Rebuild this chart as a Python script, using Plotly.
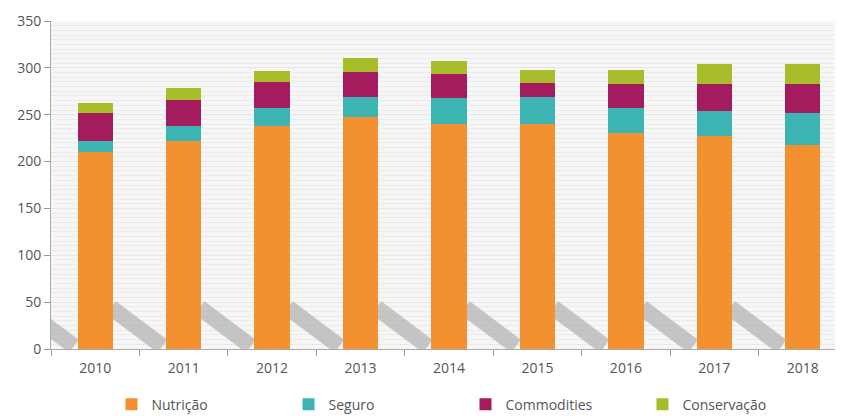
import plotly.graph_objects as go

years = ["2010", "2011", "2012", "2013", "2014", "2015", "2016", "2017", "2018"]
nutricao = [210, 222, 238, 248, 240, 240, 231, 227, 218]
seguro = [12, 16, 19, 21, 28, 29, 26, 27, 34]
commodities = [30, 28, 28, 27, 25, 15, 26, 29, 31]
conservacao = [11, 12, 12, 14, 14, 14, 15, 21, 21]

series = [
    ("Nutrição", nutricao, "#f39130"),
    ("Seguro", seguro, "#3cb4b4"),
    ("Commodities", commodities, "#a51c5e"),
    ("Conservação", conservacao, "#a9bd2b"),
]

font = "Open Sans, Noto Sans, sans-serif"
fig = go.Figure()
for name, vals, col in series:
    fig.add_trace(go.Bar(x=years, y=vals, name=name, marker=dict(color=col, line=dict(width=0)), width=0.4))

# decorative diagonal shadows between bars
shapes = []
for i in range(len(years)):
    shapes.append(dict(type="line", xref="x", yref="y", x0=i - 0.82, y0=44, x1=i - 0.24, y1=3,
                       line=dict(color="rgba(165,165,165,0.6)", width=16), layer="between"))

fig.update_layout(
    barmode="stack",
    width=843, height=416,
    margin=dict(l=43, r=4, t=13, b=75, autoexpand=False),
    paper_bgcolor="white",
    plot_bgcolor="#f6f6f6",
    font=dict(family=font, size=13, color="#555555"),
    shapes=shapes,
    showlegend=True,
    legend=dict(orientation="h", x=0.076, xanchor="left", y=-0.17, yanchor="middle",
                entrywidth=132, font=dict(size=14, color="#555555"), itemwidth=30,
                traceorder="normal"),
    xaxis=dict(type="category", range=[-0.5, 8.5], tickson="boundaries", ticks="outside",
               ticklen=6, tickcolor="#999999", showline=True, linecolor="#aaaaaa",
               showgrid=False, tickfont=dict(size=14, color="#555555"),
               ticklabelstandoff=6, automargin=False),
    yaxis=dict(range=[0, 350], dtick=50, ticks="outside", ticklen=6, tickcolor="#999999",
               showline=True, linecolor="#aaaaaa", gridcolor="#e6e6e6", gridwidth=1,
               zeroline=False, automargin=False,
               minor=dict(dtick=5, showgrid=True, gridcolor="#ebebeb", gridwidth=1),
               tickfont=dict(size=14, color="#555555")),
)

fig.write_html("out.html")
